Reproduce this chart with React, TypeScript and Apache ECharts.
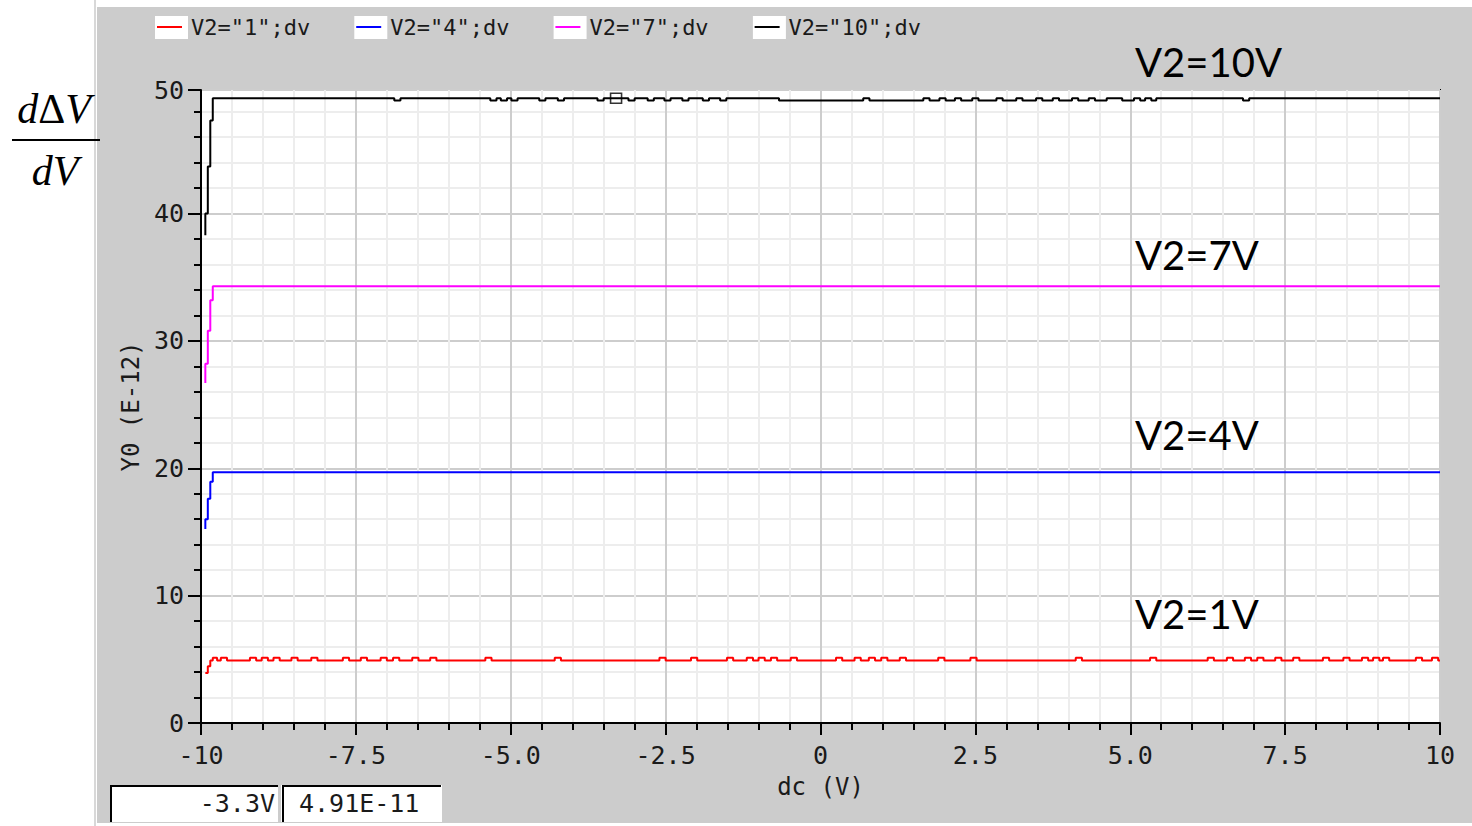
import React, { useEffect, useRef } from 'react';
import * as echarts from 'echarts';

// ---------- data ----------
const seriesNames = ['V2="1";dv', 'V2="4";dv', 'V2="7";dv', 'V2="10";dv'];
const seriesColors = ['#ff0000', '#0000ff', '#ff00ff', '#000000'];
const curveLabels = ['V2=1V', 'V2=4V', 'V2=7V', 'V2=10V'];

const xTickValues = [-10, -7.5, -5, -2.5, 0, 2.5, 5, 7.5, 10];
const xTickLabels = ['-10', '-7.5', '-5.0', '-2.5', '0', '2.5', '5.0', '7.5', '10'];
const yTickLabels = ['0', '10', '20', '30', '40', '50'];

const xMin = -10;
const xMax = 10;
const yMin = 0;
const yMax = 49.7;

// start-up ramps [dc (V), Y0 (E-12)]
const redRamp = [[-9.93, 3.92], [-9.89, 4.45], [-9.85, 4.9], [-9.81, 5.13], [-9.74, 4.9]];
const blueRamp = [[-9.93, 15.23], [-9.93, 16.0], [-9.89, 17.6], [-9.85, 18.94], [-9.81, 19.68]];
const magentaRamp = [[-9.93, 26.7], [-9.93, 28.2], [-9.89, 30.8], [-9.85, 33.2], [-9.81, 34.3]];
const blackRamp = [[-9.93, 38.3], [-9.93, 40.0], [-9.89, 43.7], [-9.85, 47.3], [-9.81, 49.05]];

// flat levels and the intervals where the trace sits on its alternate (quantised) level
const redBase = 4.9;
const redAlt = 5.12;
const redAltRuns = [
  [-9.68, -9.58], [-9.21, -9.11], [-9.02, -8.92], [-8.83, -8.73], [-8.54, -8.44], [-8.22, -8.12],
  [-7.71, -7.61], [-7.42, -7.32], [-7.1, -7.0], [-6.9, -6.8], [-6.59, -6.49], [-6.3, -6.2],
  [-5.41, -5.31], [-4.29, -4.19], [-2.6, -2.5], [-2.09, -1.99], [-1.51, -1.41], [-1.19, -1.09],
  [-1.0, -0.9], [-0.8, -0.7], [-0.48, -0.38], [0.25, 0.35], [0.55, 0.65], [0.78, 0.88],
  [0.98, 1.08], [1.28, 1.38], [1.9, 2.0], [2.42, 2.52], [4.12, 4.22], [5.32, 5.42],
  [6.25, 6.35], [6.56, 6.66], [6.85, 6.95], [7.05, 7.15], [7.34, 7.44], [7.63, 7.73],
  [8.11, 8.21], [8.44, 8.54], [8.74, 8.84], [8.92, 9.02], [9.08, 9.18], [9.61, 9.71], [9.87, 9.97],
];
const blueBase = 19.68;
const magentaBase = 34.3;
const blackBase = 49.05;
const blackAlt = 48.87;
const blackAltRuns = [
  [-6.88, -6.78], [-5.33, -5.23], [-5.16, -5.06], [-4.99, -4.89], [-4.54, -4.44], [-4.24, -4.14],
  [-3.6, -3.5], [-3.1, -3.0], [-2.79, -2.69], [-2.52, -2.42], [-2.23, -2.13], [-1.9, -1.8],
  [-1.62, -1.52], [-0.67, 0.69], [0.79, 1.66], [1.76, 1.92], [2.02, 2.17], [2.27, 2.45],
  [2.55, 2.84], [2.94, 3.16], [3.26, 3.48], [3.58, 3.75], [3.85, 4.06], [4.16, 4.33],
  [4.43, 4.62], [4.87, 5.06], [5.16, 5.24], [5.34, 5.42], [6.82, 6.92],
];

const cursorX = -3.3;
const cursorY = 49.05;
const cursorXText = '-3.3V';
const cursorYText = '4.91E-11';

// ---------- helpers ----------
function buildTrace(ramp: number[][], base: number, alt: number, runs: number[][]) {
  const pts: number[][] = ramp.map((p) => [p[0], p[1]]);
  for (const r of runs) {
    pts.push([r[0], alt]);
    pts.push([r[1], base]);
  }
  pts.push([xMax, base]);
  return pts;
}

const traces = [
  buildTrace(redRamp, redBase, redAlt, redAltRuns),
  buildTrace(blueRamp, blueBase, blueBase, []),
  buildTrace(magentaRamp, magentaBase, magentaBase, []),
  buildTrace(blackRamp, blackBase, blackAlt, blackAltRuns),
];

const MONO = '"DejaVu Sans Mono", monospace';
const TXT = '#1a1a1a';

export default function App() {
  const ref = useRef<HTMLDivElement>(null);

  useEffect(() => {
    if (!ref.current) return;
    const chart = echarts.init(ref.current, undefined, { renderer: 'svg' });

    const legendPitch = 199.3;
    const legendLeft = 157;
    const annotY = [614, 435, 255, 62];

    const graphicEls: any[] = [
      { type: 'rect', z: -10, silent: true, shape: { x: 97, y: 7, width: 1375, height: 816 }, style: { fill: '#cccccc' } },
      { type: 'line', z: -9, silent: true, shape: { x1: 95, y1: 0, x2: 95, y2: 826 }, style: { stroke: '#d8d8d8', lineWidth: 2 } },
      // fraction dΔV / dV
      {
        type: 'text', z: 10, x: 54, y: 109,
        style: {
          text: '{i|d}{n|Δ}{i|V}', align: 'center', verticalAlign: 'middle',
          rich: {
            i: { fontFamily: '"Liberation Serif", serif', fontStyle: 'italic', fontSize: 42, fill: '#000' },
            n: { fontFamily: '"Liberation Serif", serif', fontSize: 42, fill: '#000' },
          },
        },
      },
      { type: 'line', z: 10, shape: { x1: 12, y1: 140, x2: 100, y2: 140 }, style: { stroke: '#000', lineWidth: 2 } },
      {
        type: 'text', z: 10, x: 55, y: 171,
        style: { text: 'dV', align: 'center', verticalAlign: 'middle', fontFamily: '"Liberation Serif", serif', fontStyle: 'italic', fontSize: 42, fill: '#000' },
      },
      // readout boxes
      { type: 'rect', z: 1, shape: { x: 110, y: 785, width: 168, height: 37 }, style: { fill: '#fff' } },
      { type: 'polyline', z: 2, shape: { points: [[111, 822], [111, 786], [278, 786]] }, style: { stroke: '#000', lineWidth: 2, fill: 'none' } },
      { type: 'rect', z: 1, shape: { x: 281, y: 785, width: 161, height: 37 }, style: { fill: '#fff' } },
      { type: 'polyline', z: 2, shape: { points: [[283, 822], [283, 786], [441, 786]] }, style: { stroke: '#000', lineWidth: 2, fill: 'none' } },
      { type: 'text', z: 3, x: 275, y: 803, style: { text: cursorXText, align: 'right', verticalAlign: 'middle', fontFamily: MONO, fontSize: 25, fill: TXT } },
      { type: 'text', z: 3, x: 299, y: 803, style: { text: cursorYText, align: 'left', verticalAlign: 'middle', fontFamily: MONO, fontSize: 25, fill: TXT } },
    ];
    // white legend boxes
    for (let i = 0; i < seriesNames.length; i++) {
      graphicEls.push({
        type: 'rect', z: 1, silent: true,
        shape: { x: legendLeft - 2 + legendPitch * i, y: 16, width: 33, height: 23 },
        style: { fill: '#fff' },
      });
    }
    // curve annotations
    for (let i = 0; i < curveLabels.length; i++) {
      graphicEls.push({
        type: 'text', z: 10, x: 1135, y: annotY[i],
        style: { text: curveLabels[i], align: 'left', verticalAlign: 'middle', fontFamily: 'Lato, "Open Sans", sans-serif', fontSize: 40, fill: '#000' },
      });
    }

    const xLabel = (v: number) => {
      const idx = xTickValues.findIndex((t) => Math.abs(t - v) < 1e-6);
      return idx >= 0 ? xTickLabels[idx] : '';
    };
    const yLabel = (v: number) => yTickLabels[Math.round(v / 10)] ?? '';

    const option: any = {
      animation: false,
      backgroundColor: 'transparent',
      grid: {
        left: 201, top: 90, right: 32, bottom: 103,
        show: true, backgroundColor: '#ffffff', borderColor: '#000', borderWidth: 2,
        containLabel: false,
      },
      legend: {
        data: seriesNames,
        left: legendLeft, top: 16,
        icon: 'rect', itemWidth: 25, itemHeight: 2,
        itemGap: 46, padding: 0,
        selectedMode: false,
        textStyle: { fontFamily: MONO, fontSize: 22, color: TXT, padding: [0, 0, 0, 4] },
      },
      xAxis: {
        type: 'value', min: xMin, max: xMax, interval: 2.5,
        name: 'dc (V)', nameLocation: 'middle', nameGap: 52,
        nameTextStyle: { fontFamily: MONO, fontSize: 24, color: TXT },
        axisLine: { show: true, onZero: false, lineStyle: { color: '#000', width: 2 } },
        axisTick: { show: true, length: 12, lineStyle: { color: '#000', width: 2 } },
        minorTick: { show: true, splitNumber: 5, length: 7, lineStyle: { color: '#000', width: 2 } },
        splitLine: { show: true, lineStyle: { color: '#cdcdcd', width: 2 } },
        minorSplitLine: { show: true, lineStyle: { color: '#ededed', width: 2 } },
        axisLabel: { formatter: xLabel, fontFamily: MONO, fontSize: 25, color: TXT, margin: 20, showMinLabel: true, showMaxLabel: true },
      },
      yAxis: {
        type: 'value', min: yMin, max: yMax, interval: 10,
        name: 'Y0 (E-12)', nameLocation: 'middle', nameGap: 52,
        nameTextStyle: { fontFamily: MONO, fontSize: 24, color: TXT },
        axisLine: { show: true, onZero: false, lineStyle: { color: '#000', width: 2 } },
        axisTick: { show: true, length: 13, lineStyle: { color: '#000', width: 2 } },
        minorTick: { show: true, splitNumber: 5, length: 7, lineStyle: { color: '#000', width: 2 } },
        splitLine: { show: true, lineStyle: { color: '#cdcdcd', width: 2 } },
        minorSplitLine: { show: true, lineStyle: { color: '#ededed', width: 2 } },
        axisLabel: { formatter: yLabel, fontFamily: MONO, fontSize: 25, color: TXT, margin: 17, showMinLabel: true, showMaxLabel: true },
      },
      series: [
        ...seriesNames.map((name, i) => ({
          name,
          type: 'line',
          step: 'end',
          data: traces[i],
          showSymbol: false,
          symbol: 'none',
          clip: true,
          lineStyle: { color: seriesColors[i], width: 2 },
          itemStyle: { color: seriesColors[i] },
          z: 2 + i,
        })),
        {
          name: 'cursor',
          type: 'scatter',
          data: [[cursorX, cursorY]],
          symbol: 'rect',
          symbolSize: [11, 10],
          silent: true,
          itemStyle: { color: 'rgba(0,0,0,0)', borderColor: '#000', borderWidth: 1.5 },
          z: 10,
        },
      ],
      graphic: { elements: graphicEls },
    };

    chart.setOption(option);
    return () => chart.dispose();
  }, []);

  return (
    <div
      ref={ref}
      style={{ position: 'absolute', left: 0, top: 0, width: 1472, height: 826, background: '#ffffff' }}
    />
  );
}
